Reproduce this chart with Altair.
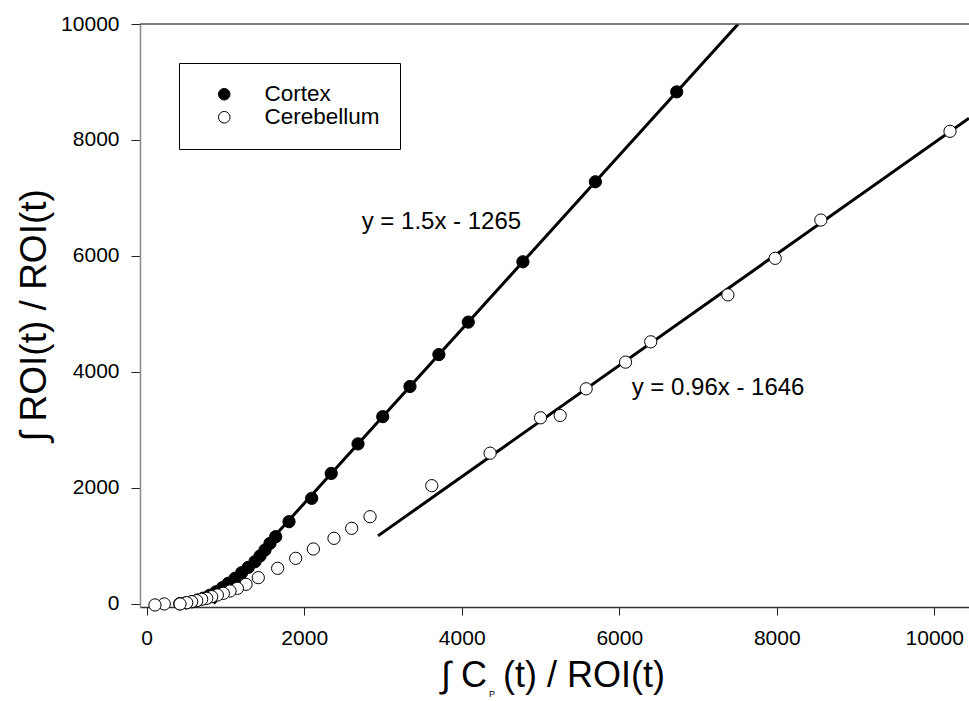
import altair as alt
import pandas as pd

F = "Liberation Sans"

# ---- data ----
cortex_x = [6730, 5697, 4777, 4083, 3710, 3343, 2997, 2683, 2343, 2095, 1807, 1638,
            1566, 1502, 1439, 1375, 1290, 1206, 1121, 1036, 960, 880, 800, 720, 650,
            580, 500, 420]
cortex_y = [8830, 7280, 5900, 4860, 4300, 3750, 3230, 2760, 2250, 1822, 1419, 1161,
            1046, 931, 828, 729, 632, 540, 443, 357, 280, 210, 150, 100, 70,
            40, 20, 5]

cereb_x = [10200, 8560, 7980, 7380, 6400, 6080, 5580, 5250, 5000, 4360, 3620, 2836,
           2603, 2378, 2116, 1892, 1663, 1417, 1261, 1151, 1058, 973, 897, 825, 762,
           698, 635, 571, 508, 423, 223, 105]
cereb_y = [8150, 6620, 5960, 5330, 4520, 4170, 3710, 3250, 3210, 2600, 2040, 1505,
           1305, 1132, 948, 787, 615, 454, 339, 270, 224, 184, 155, 126, 98,
           81, 57, 40, 22, 0, 0, -17]

cortex_fit_x = [850, 7510]
cortex_fit_y = [10, 10000]
cereb_fit_x = [2937, 10441]
cereb_fit_y = [1174, 8377]

eq_text = ["y = 1.5x - 1265", "y = 0.96x - 1646"]
eq_x = [2730, 6158]
eq_y = [6590, 3719]

x_ticks = [0, 2000, 4000, 6000, 8000, 10000]
y_ticks = [0, 2000, 4000, 6000, 8000, 10000]
series = ["Cortex", "Cerebellum"]

x_title_parts = ["\u222b C", "P", "(t) / ROI(t)"]
y_title = "\u222b ROI(t) / ROI(t)"

# ---- tables ----
pts = pd.DataFrame({
    "x": cortex_x + cereb_x,
    "y": cortex_y + cereb_y,
    "series": ["Cortex"] * len(cortex_x) + ["Cerebellum"] * len(cereb_x),
})
fits = pd.DataFrame({
    "x": cortex_fit_x + cereb_fit_x,
    "y": cortex_fit_y + cereb_fit_y,
    "series": ["Cortex"] * 2 + ["Cerebellum"] * 2,
})
eqs = pd.DataFrame({"x": eq_x, "y": eq_y, "t": eq_text})

xs = alt.Scale(domain=[-85, 10441], nice=False, zero=False)
ys = alt.Scale(domain=[-52, 10000], nice=False, zero=False)

x_axis = alt.Axis(values=x_ticks, format="d", grid=False, tickSize=8, tickColor="#222",
                  domainColor="#333", domainWidth=1.5, labelFont=F, labelFontSize=21,
                  labelColor="black", labelPadding=12, title=None)
y_axis = alt.Axis(values=y_ticks, format="d", grid=False, tickSize=9, tickColor="#222",
                  domainColor="#888", domainWidth=1.5, labelFont=F, labelFontSize=21,
                  labelColor="black", labelPadding=12,
                  title=y_title, titleFont=F, titleFontSize=37,
                  titleFontWeight="normal", titleColor="black", titleX=-95, titleY=291,
                  titleBaseline="alphabetic", titleAlign="center", titleAngle=270)

X = alt.X("x:Q", scale=xs, axis=x_axis)
Y = alt.Y("y:Q", scale=ys, axis=y_axis)

lines = alt.Chart(fits).mark_line(color="black", strokeWidth=3, clip=True).encode(
    x=X, y=Y, detail="series:N")

points = alt.Chart(pts).mark_point(filled=True, stroke="black", strokeWidth=1,
                                   size=150, opacity=1, shape="circle").encode(
    x=X, y=Y,
    fill=alt.Fill("series:N", scale=alt.Scale(domain=series, range=["black", "white"]),
                  legend=alt.Legend(title=None, orient="none", legendX=39, legendY=39,
                                    strokeColor="black", fillColor="white", padding=20,
                                    symbolOffset=14, labelOffset=29, symbolSize=135,
                                    symbolStrokeColor="black", symbolStrokeWidth=1,
                                    symbolType="circle", labelFont=F, labelFontSize=22.5,
                                    labelColor="black", rowPadding=-2)),
    order=alt.Order("ord:Q"),
).transform_calculate(ord="datum.series == 'Cortex' ? 0 : 1")

texts = alt.Chart(eqs).mark_text(align="left", baseline="middle", font=F, fontSize=24,
                                 color="black").encode(x=X, y=Y, text="t:N")

# x-axis title, written in three pieces so that the "P" can be a small subscript
t1 = alt.Chart(pd.DataFrame({"t": [x_title_parts[0]]})).mark_text(
    align="right", baseline="alphabetic", font=F, fontSize=36, color="black").encode(
    x=alt.value(347), y=alt.value(663), text="t:N")
t2 = alt.Chart(pd.DataFrame({"t": [x_title_parts[1]]})).mark_text(
    align="center", baseline="alphabetic", font=F, fontSize=9, color="black").encode(
    x=alt.value(352), y=alt.value(673), text="t:N")
t3 = alt.Chart(pd.DataFrame({"t": [x_title_parts[2]]})).mark_text(
    align="left", baseline="alphabetic", font=F, fontSize=36, color="black").encode(
    x=alt.value(363), y=alt.value(663), text="t:N")

topline = alt.Chart(pd.DataFrame({"y": [10000]})).mark_rule(color="#555", strokeWidth=1.5).encode(
    y=alt.Y("y:Q", scale=ys, axis=y_axis))

chart = alt.layer(lines, points, texts, t1, t2, t3, topline).properties(
    width=829, height=583,
    autosize=alt.AutoSizeParams(type="none"),
    padding={"left": 140, "top": 24, "right": 0, "bottom": 94},
    background="white",
).configure_view(stroke=None)

chart.save("out.html", embed_options={"renderer": "svg", "actions": False})
